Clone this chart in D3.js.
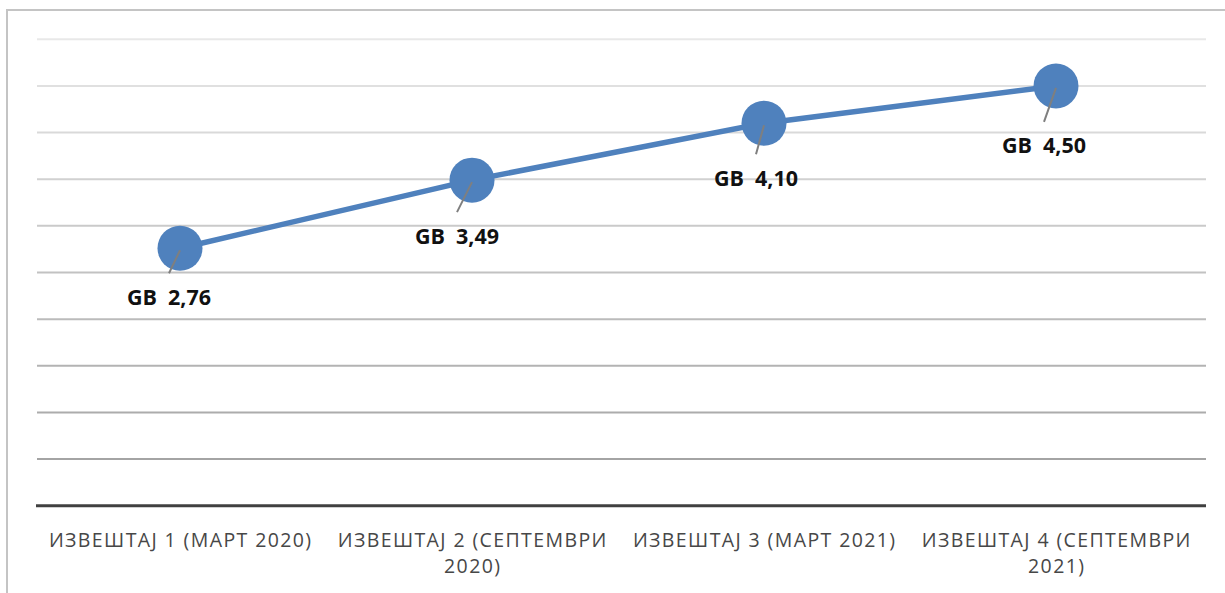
<!DOCTYPE html>
<html>
<head>
<meta charset="utf-8">
<script src="https://cdn.jsdelivr.net/npm/d3@7"></script>
<style>
  body { margin: 0; background: #fff; }
  svg { display: block; }
</style>
</head>
<body>
<svg id="chart" width="1225" height="593"></svg>
<script>
// values
const categories = [
	"ИЗВЕШТАЈ 1 (МАРТ 2020)",
	"ИЗВЕШТАЈ 2 (СЕПТЕМВРИ 2020)",
	"ИЗВЕШТАЈ 3 (МАРТ 2021)",
	"ИЗВЕШТАЈ 4 (СЕПТЕМВРИ 2021)"
];
const sizes = [2.76, 3.49, 4.10, 4.50];
const valueLabels = ["GB  2,76", "GB  3,49", "GB  4,10", "GB  4,50"];
const yTicks = [0, 0.5, 1, 1.5, 2, 2.5, 3, 3.5, 4, 4.5, 5];

// hand placed label nudges (dx, dy from the marker)
const labelNudge = [[-11, 49], [-15, 56], [-8, 55], [-12, 60]];

const svg = d3.select("#chart");
const blue = "#4f81bd";

// outer frame, cut off at the right and bottom
svg.append("rect")
	.attr("x", 7).attr("y", 10)
	.attr("width", 1400).attr("height", 800)
	.attr("fill", "none")
	.attr("stroke", "#c4c4c4")
	.attr("stroke-width", 2);

const x = d3.scaleBand().domain(categories).range([34, 1202]);
const y = d3.scaleLinear().domain([0, 5]).range([505.7, 39.3]);

// gridlines, getting darker towards the bottom
const gridCol = d3.scaleLinear().domain([5, 0.5]).range(["#e8e8e8", "#a4a4a4"]);
svg.append("g")
	.selectAll("line")
	.data(yTicks.filter(d => d > 0))
	.enter().append("line")
		.attr("x1", 37).attr("x2", 1206)
		.attr("y1", d => y(d)).attr("y2", d => y(d))
		.attr("stroke", d => gridCol(d))
		.attr("stroke-width", 2);

// baseline
svg.append("line")
	.attr("x1", 36).attr("x2", 1206)
	.attr("y1", y(0)).attr("y2", y(0))
	.attr("stroke", "#404040")
	.attr("stroke-width", 3);

// category labels, wrapped to the band width
const axisG = svg.append("g").attr("transform", `translate(0,${y(0)})`);
const xAxis = d3.axisBottom(x).tickSize(0).tickPadding(0);
axisG.call(xAxis);
axisG.select(".domain").remove();
axisG.selectAll(".tick text")
	.attr("font-family", "'Open Sans', sans-serif")
	.attr("font-size", 19.5)
	.attr("letter-spacing", 1.4)
	.attr("fill", "#474747")
	.each(function(d) {
		const t = d3.select(this);
		const words = d.split(" ");
		const maxW = x.bandwidth() - 8;
		t.text(null);
		let lines = [], cur = [];
		const probe = t.append("tspan");
		words.forEach(w => {
			probe.text([...cur, w].join(" "));
			if (probe.node().getComputedTextLength() > maxW && cur.length) {
				lines.push(cur.join(" "));
				cur = [w];
			} else cur.push(w);
		});
		lines.push(cur.join(" "));
		probe.remove();
		t.attr("y", 0).attr("dy", null);
		lines.forEach((ln, i) => {
			t.append("tspan")
				.attr("x", 0.7)
				.attr("y", 41 + i * 26)
				.text(ln);
		});
	});

const cx = (d, i) => x(categories[i]) + x.bandwidth() / 2;

// series line
const line = d3.line()
	.x((d, i) => cx(d, i))
	.y(d => y(d));
svg.append("path")
	.datum(sizes)
	.attr("d", line)
	.attr("fill", "none")
	.attr("stroke", blue)
	.attr("stroke-width", 5.5);

// markers
svg.append("g")
	.selectAll("circle")
	.data(sizes)
	.enter().append("circle")
		.attr("cx", cx)
		.attr("cy", d => y(d))
		.attr("r", 22.5)
		.attr("fill", blue);

// leader lines
svg.append("g")
	.selectAll("line")
	.data(sizes)
	.enter().append("line")
		.attr("x1", (d, i) => cx(d, i))
		.attr("y1", d => y(d) + 2)
		.attr("x2", (d, i) => cx(d, i) + labelNudge[i][0])
		.attr("y2", (d, i) => y(d) + labelNudge[i][1] - 24)
		.attr("stroke", "#7f7f7f")
		.attr("stroke-width", 2);

// data labels
svg.append("g")
	.selectAll("text")
	.data(sizes)
	.enter().append("text")
		.attr("x", (d, i) => cx(d, i) + labelNudge[i][0])
		.attr("y", (d, i) => y(d) + labelNudge[i][1])
		.attr("dy", "0.35em")
		.attr("text-anchor", "middle")
		.attr("font-family", "'Open Sans', sans-serif")
		.attr("font-weight", "bold")
		.attr("font-size", 21.5)
		.attr("fill", "#111")
		.style("white-space", "pre")
		.text((d, i) => valueLabels[i]);
</script>
</body>
</html>
